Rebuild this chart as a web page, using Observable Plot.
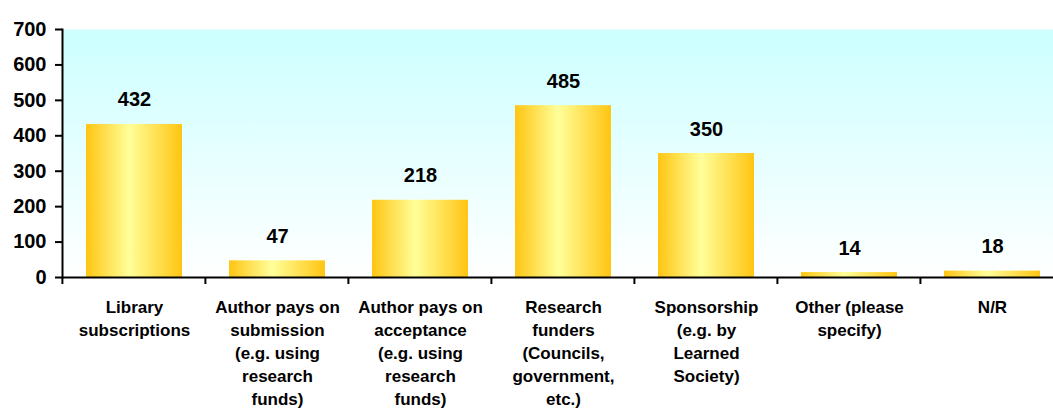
<!DOCTYPE html>
<html><head><meta charset="utf-8">
<script src="https://cdn.jsdelivr.net/npm/d3@7"></script>
<script src="https://cdn.jsdelivr.net/npm/@observablehq/plot@0.6"></script>
<style>body{margin:0;background:#fff;} #chart svg{overflow:visible;display:block}</style>
</head><body><div id="chart"></div>
<script>
const categories = ["Library subscriptions", "Author pays on submission (e.g. using research funds)", "Author pays on acceptance (e.g. using research funds)", "Research funders (Councils, government, etc.)", "Sponsorship (e.g. by Learned Society)", "Other (please specify)", "N/R"];
const values = [432, 47, 218, 485, 350, 14, 18];
const tickLabels = ["Library\nsubscriptions", "Author pays on\nsubmission\n(e.g. using\nresearch\nfunds)", "Author pays on\nacceptance\n(e.g. using\nresearch\nfunds)", "Research\nfunders\n(Councils,\ngovernment,\netc.)", "Sponsorship\n(e.g. by\nLearned\nSociety)", "Other (please\nspecify)", "N/R"];
const yTicks = [0, 100, 200, 300, 400, 500, 600, 700];

const data = categories.map((c, i) => ({category: c, value: values[i]}));
const PAD = 0.33;

const boundaryTicks = (index, scales) => {
  const g = d3.create("svg:g");
  const x = scales.x, y = scales.y;
  const step = x(categories[1]) - x(categories[0]);
  const y0 = y(0);
  categories.forEach(c => {
    const bx = x(c) - step * PAD / 2;
    g.append("line").attr("x1", bx).attr("x2", bx).attr("y1", y0).attr("y2", y0 + 7)
      .attr("stroke", "#000").attr("stroke-width", 2);
  });
  return g.node();
};

const chart = Plot.plot({
  width: 1053,
  height: 415,
  marginLeft: 62,
  marginRight: 0,
  marginTop: 29,
  marginBottom: 138,
  style: {fontFamily: "'Liberation Sans', Arial, sans-serif", fontWeight: "bold", color: "#000", background: "#fff"},
  x: {domain: categories, range: [62, 1063], paddingInner: PAD, paddingOuter: PAD / 2, label: null},
  y: {domain: [0, 700], label: null},
  marks: [
    Plot.frame({fill: "url(#bgGrad)", stroke: null}),
    Plot.barY(data, {x: "category", y: "value", fill: "url(#barGrad)"}),
    Plot.ruleY([0], {stroke: "#000", strokeWidth: 2}),
    Plot.frame({anchor: "left", stroke: "#000", strokeWidth: 2}),
    boundaryTicks,
    Plot.text(data, {x: "category", y: "value", text: d => String(d.value), dy: -18, lineAnchor: "bottom", fontSize: 20, fontWeight: "bold", fill: "#000"}),
    Plot.axisY({ticks: yTicks, label: null, tickSize: 7, tickPadding: 9, fontSize: 20, fontWeight: "bold", strokeWidth: 2, tickFormat: d => String(d)}),
    Plot.axisX({label: null, tickSize: 0, tickPadding: 19, fontSize: 17, fontWeight: "bold", lineHeight: 1.35, tickFormat: d => tickLabels[categories.indexOf(d)]})
  ]
});

const svg = d3.select(chart);
const defs = svg.insert("defs", ":first-child");
const bg = defs.append("linearGradient").attr("id", "bgGrad").attr("x1", 0).attr("y1", 0).attr("x2", 0).attr("y2", 1);
bg.append("stop").attr("offset", "0%").attr("stop-color", "#ccffff");
bg.append("stop").attr("offset", "100%").attr("stop-color", "#ffffff");
const bar = defs.append("linearGradient").attr("id", "barGrad").attr("x1", 0).attr("y1", 0).attr("x2", 1).attr("y2", 0);
bar.append("stop").attr("offset", "0%").attr("stop-color", "#ffc512");
bar.append("stop").attr("offset", "45%").attr("stop-color", "#ffff99");
bar.append("stop").attr("offset", "100%").attr("stop-color", "#ffc512");

document.getElementById("chart").appendChild(chart);
</script>
</body></html>
